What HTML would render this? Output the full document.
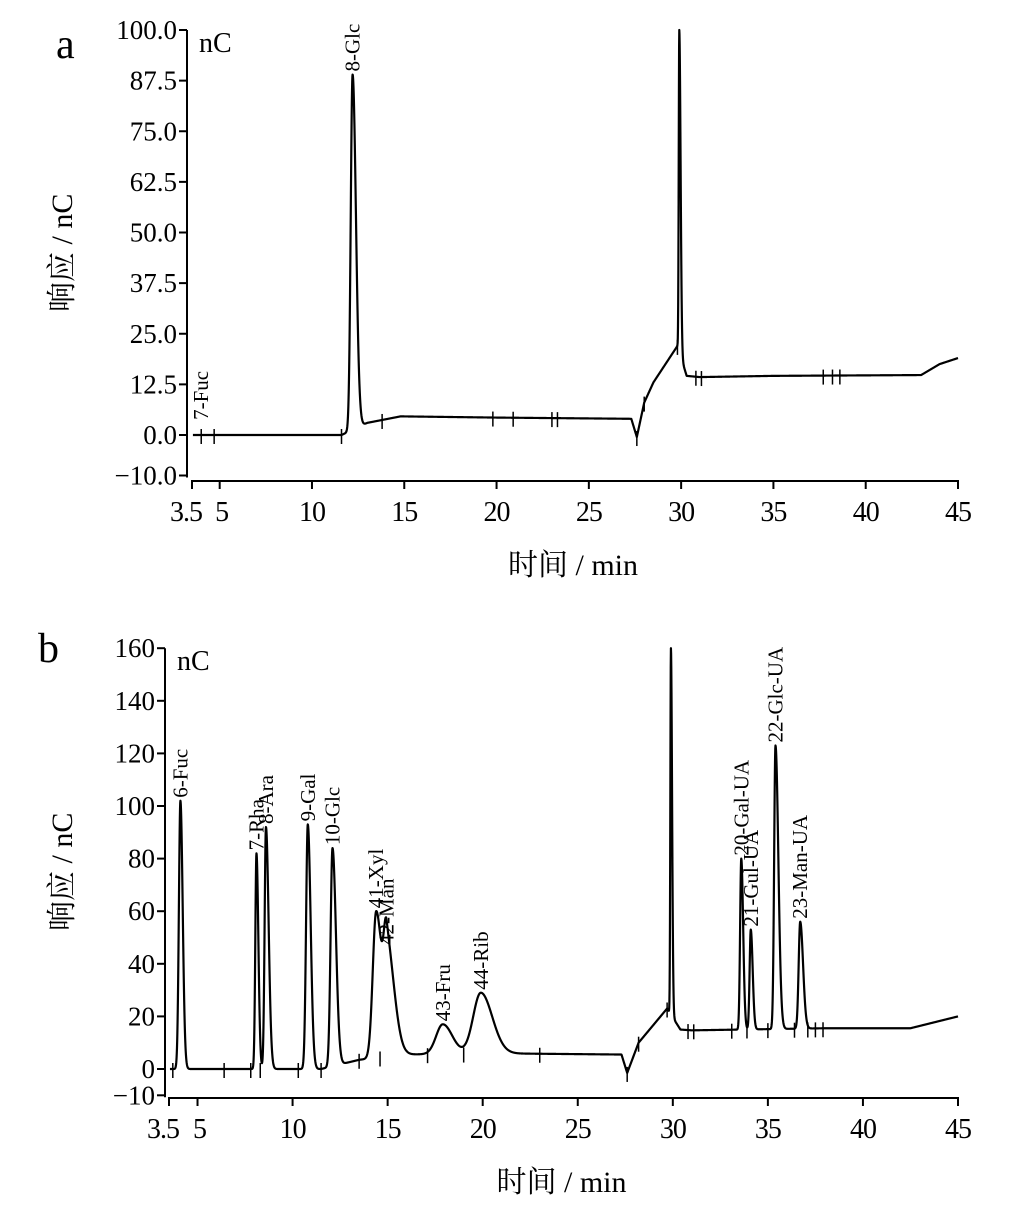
<!DOCTYPE html>
<html><head><meta charset="utf-8">
<style>
html,body{margin:0;padding:0;background:#fff;}
svg{display:block;font-family:"Liberation Serif","Noto Serif CJK SC",serif;}
</style></head>
<body>
<svg id="chart" width="1010" height="1220" viewBox="0 0 1010 1220" xmlns="http://www.w3.org/2000/svg">
<g id="pa"></g>
<g id="pb"></g>
</svg>
<script>
// ---- Panel A data ----
const aXTicks = [3.5, 5, 10, 15, 20, 25, 30, 35, 40, 45];
const aYTicks = [-10, 0, 12.5, 25, 37.5, 50, 62.5, 75, 87.5, 100];
const aYLabels = ["−10.0","0.0","12.5","25.0","37.5","50.0","62.5","75.0","87.5","100.0"];
const aBaseT = [3.5, 11.6, 13.0, 14.8, 20, 27.3, 27.6, 28.0, 28.5, 29.8, 30.3, 31, 35, 43, 44, 45];
const aBaseV = [0, 0, 3.0, 4.6, 4.3, 4.0, -0.5, 8, 13, 22, 14.6, 14.3, 14.6, 14.8, 17.5, 19];
const aPeakT = [12.2, 29.9];
const aPeakH = [89, 100];
const aPeakL = [0.1, 0.03];
const aPeakR = [0.18, 0.07];
const aLabelNames = ["8-Glc", "7-Fuc"];
const aLabelT = [12.2, 4.0];
const aLabelV = [89, 3];
const aMarkT = [4.0, 4.7, 11.6, 13.8, 19.8, 20.9, 23, 23.3, 27.6, 28.0, 29.8, 30.8, 31.1, 37.7, 38.2, 38.6];

// ---- Panel B data ----
const bXTicks = [3.5, 5, 10, 15, 20, 25, 30, 35, 40, 45];
const bYTicks = [-10, 0, 20, 40, 60, 80, 100, 120, 140, 160];
const bYLabels = ["−10","0","20","40","60","80","100","120","140","160"];
const bBaseT = [3.5, 11.5, 13.5, 16, 20, 27.3, 27.6, 28.2, 29.7, 30.4, 31, 38, 42.5, 45];
const bBaseV = [0, 0, 3.5, 5.5, 6, 5.5, -1.5, 10, 23, 15, 14.7, 15.5, 15.5, 20];
const bPeakT = [4.1, 8.1, 8.6, 10.8, 12.1, 14.4, 14.95, 17.9, 19.9, 29.9, 33.6, 34.1, 35.4, 36.7];
const bPeakH = [102, 82, 92, 93, 84, 60, 46, 17, 29, 160, 80, 53, 123, 56];
const bPeakL = [0.08, 0.06, 0.07, 0.09, 0.1, 0.18, 0.15, 0.35, 0.4, 0.03, 0.06, 0.06, 0.07, 0.08];
const bPeakR = [0.12, 0.1, 0.14, 0.15, 0.18, 0.3, 0.4, 0.5, 0.6, 0.06, 0.1, 0.1, 0.15, 0.15];
const bLabelNames = ["6-Fuc","7-Rha","8-Ara","9-Gal","10-Glc","41-Xyl","42-Man","43-Fru","44-Rib","20-Gal-UA","21-Gul-UA","22-Glc-UA","23-Man-UA"];
const bLabelT = [4.1, 8.1, 8.6, 10.8, 12.1, 14.4, 14.95, 17.9, 19.9, 33.6, 34.1, 35.4, 36.7];
const bLabelV = [102, 82, 92, 93, 84, 60, 46, 17, 29, 80, 53, 123, 56];
const bMarkT = [3.7, 6.4, 7.8, 8.3, 10.3, 11.5, 13.5, 14.6, 17.1, 19.0, 23.0, 27.6, 28.2, 29.7, 30.8, 31.1, 33.1, 33.9, 35.0, 36.4, 37.1, 37.5, 37.9];

const NS = "http://www.w3.org/2000/svg";
function mk(parent, tag, attrs) {
  const e = document.createElementNS(NS, tag);
  for (const k in attrs) e.setAttribute(k, attrs[k]);
  parent.appendChild(e);
  return e;
}
function interp(ts, vs, t) {
  if (t <= ts[0]) return vs[0];
  for (let i = 1; i < ts.length; i++) {
    if (t <= ts[i]) { const f = (t - ts[i-1]) / (ts[i] - ts[i-1]); return vs[i-1] + f * (vs[i] - vs[i-1]); }
  }
  return vs[vs.length - 1];
}

function drawPanel(g, cfg) {
  const X = t => cfg.x0 + (t - cfg.t0) * (cfg.x1 - cfg.x0) / (cfg.t1 - cfg.t0);
  const Y = v => cfg.yZero - v * cfg.ppu;
  const sig = t => {
    let b = interp(cfg.baseT, cfg.baseV, t), s = b;
    for (let i = 0; i < cfg.peakT.length; i++) {
      const amp = cfg.peakH[i] - interp(cfg.baseT, cfg.baseV, cfg.peakT[i]);
      const d = t - cfg.peakT[i];
      const w = d < 0 ? cfg.peakL[i] : cfg.peakR[i];
      s += amp * Math.exp(-0.5 * (d / w) * (d / w));
    }
    return s;
  };
  const yAxis = mk(g, "line", {x1: cfg.yAxisX, y1: Y(cfg.yTicks[cfg.yTicks.length-1]), x2: cfg.yAxisX, y2: Y(-10) + 2, stroke: "#000", "stroke-width": 2});
  
  
  const xAxis = mk(g, "line", {x1: X(cfg.t0) - 1, y1: cfg.xAxisY, x2: X(cfg.t1) + 1, y2: cfg.xAxisY, stroke: "#000", "stroke-width": 2});
  
  
  cfg.yTicks.forEach((v, i) => {
    const tk = mk(g, "line", {x1: cfg.yAxisX - 8, y1: Y(v), x2: cfg.yAxisX, y2: Y(v), stroke: "#000", "stroke-width": 2});
    
    
    const tx = mk(g, "text", {x: cfg.yAxisX - 10, y: Y(v) + 9, "text-anchor": "end", "font-size": 27});
    tx.textContent = cfg.yLabels[i];
    
    
  });
  cfg.xTicks.forEach(t => {
    const tk = mk(g, "line", {x1: X(t), y1: cfg.xAxisY, x2: X(t), y2: cfg.xAxisY + 8, stroke: "#000", "stroke-width": 2});
    
    
    let xx = X(t);
    if (t === 3.5) xx -= 6;
    if (t === 5) xx += 2;
    const tx = mk(g, "text", {x: xx, y: cfg.xAxisY + 40, "text-anchor": "middle", "font-size": 28, "letter-spacing": "-1"});
    tx.textContent = String(t);
    
    
  });
  let d = "";
  for (let t = cfg.t0 + 0.05; t <= cfg.t1; t += 0.01) {
    d += (d ? "L" : "M") + X(t).toFixed(2) + "," + Y(sig(t)).toFixed(2);
  }
  const p = mk(g, "path", {d: d, fill: "none", stroke: "#000", "stroke-width": 2.2, "stroke-linejoin": "round"});
  
  
  cfg.markT.forEach(t => {
    const v = interp(cfg.baseT, cfg.baseV, t);
    const m = mk(g, "line", {x1: X(t), y1: Y(v) - 6, x2: X(t), y2: Y(v) + 9, stroke: "#000", "stroke-width": 1.5});
    
    
  });
  cfg.labelNames.forEach((n, i) => {
    const x = X(cfg.labelT[i]) + 7, y = Y(cfg.labelV[i]) - 3;
    const tx = mk(g, "text", {x: x, y: y, transform: `rotate(-90 ${x} ${y})`, "font-size": 21});
    tx.textContent = n;
    
    
  });
  const u = mk(g, "text", {x: cfg.yAxisX + 12, y: Y(cfg.yTicks[cfg.yTicks.length-1]) + 22, "font-size": 28});
  u.textContent = "nC";
  
  
  const xt = mk(g, "text", {x: (cfg.x0 + cfg.x1) / 2 - 2, y: cfg.xAxisY + 94, "text-anchor": "middle", "font-size": 30});
  xt.textContent = "时间 / min";
  
  
  const yc = (Y(cfg.yTicks[cfg.yTicks.length-1]) + Y(-10)) / 2;
  const yt = mk(g, "text", {x: 72, y: yc, transform: `rotate(-90 72 ${yc})`, "text-anchor": "middle", "font-size": 30});
  yt.textContent = "响应 / nC";
  
  
  const pl = mk(g, "text", {x: cfg.letterX, y: cfg.letterY, "font-size": 42});
  pl.textContent = cfg.letter;
  
  
}

drawPanel(document.getElementById("pa"), {
  x0: 192, x1: 958, t0: 3.5, t1: 45, yZero: 435, ppu: 4.05, yAxisX: 187, xAxisY: 481,
  xTicks: aXTicks, yTicks: aYTicks, yLabels: aYLabels, baseT: aBaseT, baseV: aBaseV,
  peakT: aPeakT, peakH: aPeakH, peakL: aPeakL, peakR: aPeakR,
  labelNames: aLabelNames, labelT: aLabelT, labelV: aLabelV, markT: aMarkT,
  letter: "a", letterX: 56, letterY: 58
});
drawPanel(document.getElementById("pb"), {
  x0: 169, x1: 958, t0: 3.5, t1: 45, yZero: 1069, ppu: 2.63, yAxisX: 165, xAxisY: 1098,
  xTicks: bXTicks, yTicks: bYTicks, yLabels: bYLabels, baseT: bBaseT, baseV: bBaseV,
  peakT: bPeakT, peakH: bPeakH, peakL: bPeakL, peakR: bPeakR,
  labelNames: bLabelNames, labelT: bLabelT, labelV: bLabelV, markT: bMarkT,
  letter: "b", letterX: 38, letterY: 662
});
</script>
</body></html>
